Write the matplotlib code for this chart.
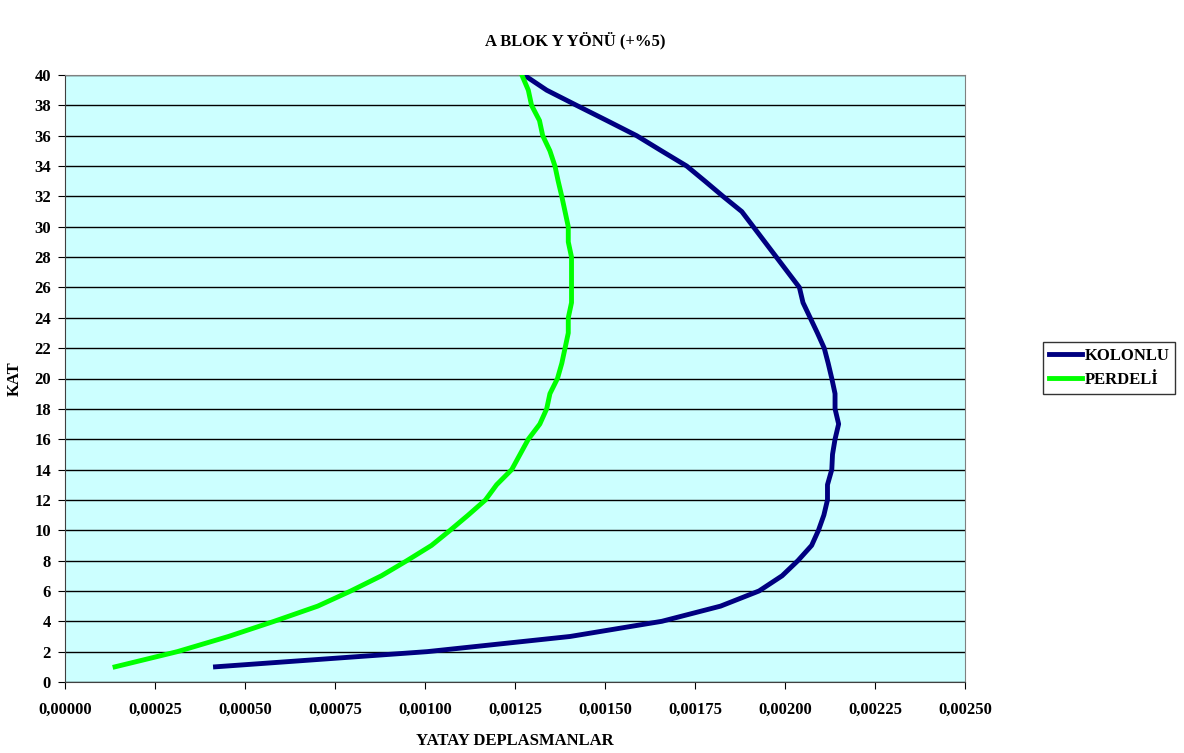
import matplotlib.pyplot as plt
from matplotlib.ticker import MultipleLocator, FuncFormatter

plt.rcParams["font.family"] = ["Liberation Serif", "DejaVu Serif"]
plt.rcParams["font.weight"] = "bold"

# Floors 1..40
kat = list(range(1, 41))

kolonlu = [
    0.000418, 0.001006, 0.001403, 0.001658, 0.001821, 0.001928, 0.001992, 0.002036,
    0.002074, 0.002093, 0.002108, 0.002118, 0.002118, 0.002130, 0.002132, 0.002139,
    0.002149, 0.002139, 0.002139, 0.002130, 0.002120, 0.002109, 0.002090, 0.002070,
    0.002050, 0.002040, 0.002008, 0.001976, 0.001944, 0.001912, 0.001880, 0.001828,
    0.001778, 0.001727, 0.001657, 0.001588, 0.001505, 0.001421, 0.001338, 0.001275,
]

perdeli = [
    0.000139, 0.000312, 0.000454, 0.000581, 0.000702, 0.000794, 0.000879, 0.000950,
    0.001018, 0.001070, 0.001120, 0.001168, 0.001199, 0.001241, 0.001264, 0.001287,
    0.001319, 0.001338, 0.001347, 0.001368, 0.001380, 0.001389, 0.001398, 0.001398,
    0.001407, 0.001407, 0.001407, 0.001407, 0.001398, 0.001398, 0.001389, 0.001380,
    0.001370, 0.001361, 0.001347, 0.001327, 0.001318, 0.001296, 0.001287, 0.001269,
]

FS = 12

fig = plt.figure(figsize=(11.84, 7.53), dpi=100)
ax = fig.add_axes([65 / 1184, 1 - 682 / 753, 900 / 1184, 607 / 753])
ax.set_facecolor("#CCFFFF")

ax.plot(kolonlu, kat, color="#000080", lw=3.5, label="KOLONLU", zorder=3)
ax.plot(perdeli, kat, color="#00FF00", lw=3.5, label="PERDELİ", zorder=3)

ax.set_xlim(0, 0.0025)
ax.set_ylim(0, 40)
ax.xaxis.set_major_locator(MultipleLocator(0.00025))
ax.yaxis.set_major_locator(MultipleLocator(2))
ax.xaxis.set_major_formatter(FuncFormatter(lambda v, p: f"{v:.5f}".replace(".", ",")))
ax.yaxis.grid(True, color="black", lw=1)
ax.set_axisbelow(True)

for s in ["top", "right"]:
    ax.spines[s].set_color("#808080")
for s in ["left", "bottom"]:
    ax.spines[s].set_color("#404040")

ax.tick_params(axis="both", direction="out", length=5, labelsize=FS, colors="black")
ax.tick_params(axis="x", pad=9)
ax.tick_params(axis="y", pad=5)
for lbl in ax.get_xticklabels() + ax.get_yticklabels():
    lbl.set_fontweight("bold")

ax.set_ylabel("KAT", fontsize=FS, fontweight="bold", labelpad=8)

# axis caption and title placed in figure coordinates
fig.text(515 / 1184, 1 - 741 / 753, "YATAY DEPLASMANLAR", ha="center", va="center",
         fontsize=FS, fontweight="bold")
fig.text(575 / 1184, 1 - 41 / 753, "A BLOK Y YÖNÜ (+%5)", ha="center", va="center",
         fontsize=FS, fontweight="bold")

leg = fig.legend(loc="center left", bbox_to_anchor=(1043 / 1184, 1 - 368 / 753),
                 frameon=True, fancybox=False, edgecolor="black", fontsize=FS,
                 handlelength=2.0, handletextpad=0.15, borderpad=0.35,
                 borderaxespad=0, labelspacing=0.45)
leg.get_frame().set_linewidth(1)
for t in leg.get_texts():
    t.set_fontweight("bold")

fig.savefig("out.png", dpi=100)
plt.close(fig)
